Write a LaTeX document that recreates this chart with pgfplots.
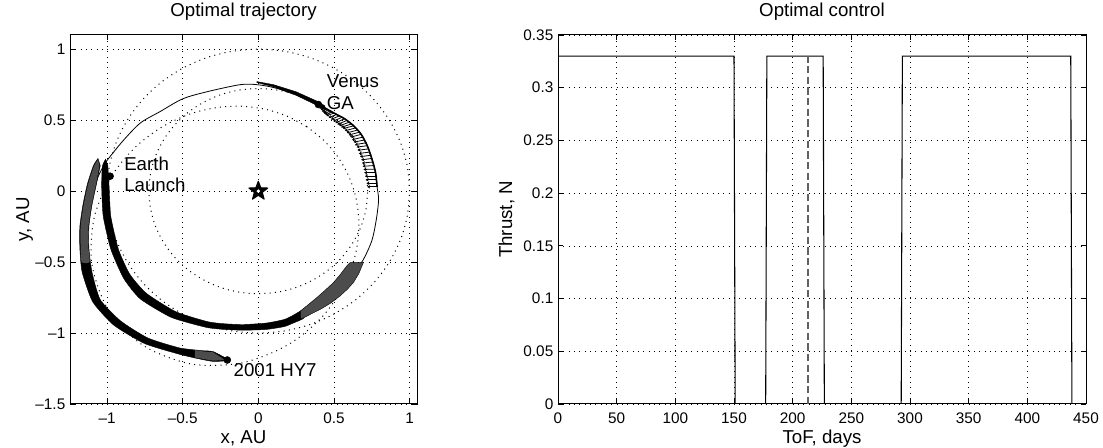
\documentclass[border=0pt]{standalone}
\usepackage{fontspec}
\setmainfont{Liberation Sans}
\usepackage{pgfplots}
\pgfplotsset{compat=1.18}
\usetikzlibrary{arrows.meta}

\pgfdeclareplotmark{pentagram}{%
 \pgfpathmoveto{\pgfpointpolar{90}{\pgfplotmarksize}}%
 \pgfpathlineto{\pgfpointpolar{126}{0.42*\pgfplotmarksize}}%
 \pgfpathlineto{\pgfpointpolar{162}{\pgfplotmarksize}}%
 \pgfpathlineto{\pgfpointpolar{198}{0.42*\pgfplotmarksize}}%
 \pgfpathlineto{\pgfpointpolar{234}{\pgfplotmarksize}}%
 \pgfpathlineto{\pgfpointpolar{270}{0.42*\pgfplotmarksize}}%
 \pgfpathlineto{\pgfpointpolar{306}{\pgfplotmarksize}}%
 \pgfpathlineto{\pgfpointpolar{342}{0.42*\pgfplotmarksize}}%
 \pgfpathlineto{\pgfpointpolar{18}{\pgfplotmarksize}}%
 \pgfpathlineto{\pgfpointpolar{54}{0.42*\pgfplotmarksize}}%
 \pgfpathclose
 \pgfusepathqfillstroke}

\pgfplotsset{
 mystyle/.style={
  scale only axis, height=276.75pt,
  axis line style={line width=0.75pt},
  tick align=inside, major tick length=3.75pt,
  every tick/.style={black, line width=0.6pt},
  grid=major,
  major grid style={black, line width=0.5pt, dash pattern=on 0.6pt off 3.4pt},
  tick label style={font=\fontsize{11.5}{13}\selectfont},
  label style={font=\fontsize{14}{16}\selectfont},
  title style={font=\fontsize{14}{16}\selectfont, at={(axis description cs:0.5,1.0271)}, anchor=base},
  xlabel style={at={(axis description cs:0.5,-0.1057)}, anchor=base},
  xticklabel style={anchor=base, yshift=-14.8pt},
  /pgf/number format/assume math mode=true,
  scaled ticks=false,
 },
 orbit/.style={black, line width=0.75pt, dash pattern=on 0.75pt off 3.2pt, smooth},
 band/.style={draw=black, line width=0.3pt, smooth, tension=0.35},
}

\begin{document}
\begin{tikzpicture}
\path[use as bounding box] (0pt,0pt) rectangle (827.25pt,-336pt);

% ---------------- left: trajectory ----------------
\begin{axis}[mystyle, at={(52.5pt,-303pt)}, anchor=south west, width=260.25pt,
 xmin=-1.245, xmax=1.049, ymin=-1.5, ymax=1.1,
 xtick={-1,-0.5,0,0.5,1}, xticklabels={–1,–0.5,0,0.5,1},
 ytick={-1.5,-1,-0.5,0,0.5,1}, yticklabels={–1.5,–1,–0.5,0,0.5,1},
 title={Optimal trajectory}, xlabel={x, AU}, ylabel={y, AU},
 ylabel style={at={(axis description cs:-0.118,0.5)}, anchor=base}]

% Earth orbit
\addplot[orbit] coordinates {(1,0) (0.985,0.174) (0.940,0.342) (0.866,0.5) (0.766,0.643) (0.643,0.766) (0.5,0.866) (0.342,0.940) (0.174,0.985) (0,1) (-0.174,0.985) (-0.342,0.940) (-0.5,0.866) (-0.643,0.766) (-0.766,0.643) (-0.866,0.5) (-0.940,0.342) (-0.985,0.174) (-1,0) (-0.985,-0.174) (-0.940,-0.342) (-0.866,-0.5) (-0.766,-0.643) (-0.643,-0.766) (-0.5,-0.866) (-0.342,-0.940) (-0.174,-0.985) (0,-1) (0.174,-0.985) (0.342,-0.940) (0.5,-0.866) (0.643,-0.766) (0.766,-0.643) (0.866,-0.5) (0.940,-0.342) (0.985,-0.174) (1,0)};
% Venus orbit
\addplot[orbit] coordinates {(0.723,0) (0.712,0.126) (0.680,0.247) (0.626,0.362) (0.554,0.465) (0.465,0.554) (0.362,0.626) (0.247,0.680) (0.126,0.712) (0,0.723) (-0.126,0.712) (-0.247,0.680) (-0.362,0.626) (-0.465,0.554) (-0.554,0.465) (-0.626,0.362) (-0.680,0.247) (-0.712,0.126) (-0.723,0) (-0.712,-0.126) (-0.680,-0.247) (-0.626,-0.362) (-0.554,-0.465) (-0.465,-0.554) (-0.362,-0.626) (-0.247,-0.680) (-0.126,-0.712) (0,-0.723) (0.126,-0.712) (0.247,-0.680) (0.362,-0.626) (0.465,-0.554) (0.554,-0.465) (0.626,-0.362) (0.680,-0.247) (0.712,-0.126) (0.723,0)};
% asteroid orbit
\addplot[orbit] coordinates {(0.3185,0.4549) (0.1918,0.5271) (0.0504,0.5756) (-0.1054,0.5978) (-0.2746,0.5889) (-0.4550,0.5423) (-0.6414,0.4491) (-0.8231,0.2996) (-0.9812,0.0859) (-1.0859,-0.1914) (-1.1005,-0.5131) (-0.9930,-0.8333) (-0.7612,-1.0872) (-0.4434,-1.2182) (-0.1059,-1.2096) (0.1914,-1.0859) (0.4162,-0.8926) (0.5630,-0.6709) (0.6414,-0.4491) (0.6652,-0.2421) (0.6473,-0.0567) (0.5978,0.1054) (0.5237,0.2442) (0.4297,0.3605) (0.3185,0.4549)};

% trajectory (thin)
\addplot[black, line width=0.6pt, smooth, tension=0.5] coordinates {(-0.98,0.105) (-1.0,0.0) (-0.99,-0.18) (-0.95,-0.41) (-0.87,-0.60) (-0.76,-0.74) (-0.56,-0.87) (-0.34,-0.94) (-0.10,-0.96) (0.17,-0.94) (0.36,-0.85) (0.50,-0.72) (0.62,-0.58) (0.69,-0.49) (0.75,-0.35) (0.78,-0.20) (0.795,-0.06) (0.785,0.03) (0.775,0.13) (0.75,0.23) (0.72,0.32) (0.68,0.40) (0.63,0.46) (0.57,0.51) (0.50,0.55) (0.40,0.61) (0.25,0.68) (0.10,0.73) (-0.01,0.75) (-0.12,0.75) (-0.34,0.70) (-0.50,0.65) (-0.65,0.56) (-0.78,0.48) (-0.89,0.36) (-0.96,0.27) (-1.01,0.20) (-1.06,0.10) (-1.10,-0.03) (-1.14,-0.15) (-1.15,-0.30) (-1.15,-0.45) (-1.13,-0.60) (-1.06,-0.775) (-0.93,-0.93) (-0.74,-1.05) (-0.52,-1.125) (-0.35,-1.16) (-0.205,-1.19)};

% thrust arc A (0-150 d)
\addplot[band, fill=black] coordinates {(-1.01,0.225) (-1.03,0.18) (-1.035,0.10) (-1.035,0.0) (-1.025,-0.18) (-0.975,-0.41) (-0.89,-0.615) (-0.78,-0.76) (-0.575,-0.89) (-0.345,-0.96) (-0.22,-0.975) (-0.10,-0.98) (0.05,-0.975) (0.17,-0.955) (0.23,-0.93) (0.30,-0.895) (0.30,-0.835) (0.23,-0.875) (0.17,-0.905) (0.05,-0.93) (-0.10,-0.94) (-0.22,-0.935) (-0.335,-0.92) (-0.545,-0.85) (-0.74,-0.72) (-0.85,-0.585) (-0.925,-0.41) (-0.975,-0.18) (-0.985,0.0) (-0.99,0.10) (-0.995,0.18)} -- cycle;
\addplot[draw=black, line width=0.3pt, fill=black!70] coordinates {(0.278,-0.904) (0.35,-0.865) (0.41,-0.833) (0.48,-0.788) (0.54,-0.739) (0.59,-0.69) (0.628,-0.645) (0.665,-0.58) (0.694,-0.504) (0.606,-0.504) (0.584,-0.528) (0.54,-0.59) (0.496,-0.645) (0.44,-0.70) (0.386,-0.751) (0.33,-0.80) (0.278,-0.845)} -- cycle;

% thrust arc B (178-226 d)
\addplot[black, line width=0.6pt, -{Stealth[length=2.2pt,width=2.6pt]},
 quiver={u=\thisrow{u}, v=\thisrow{v}}] table[row sep=\\] {
x y u v\\
0.785 0.030 -0.065 0\\
0.7825 0.055 -0.0675 0\\
0.780 0.080 -0.070 0\\
0.7775 0.105 -0.0725 0\\
0.775 0.130 -0.075 0\\
0.769 0.155 -0.074 -0.0025\\
0.763 0.180 -0.073 -0.005\\
0.7565 0.205 -0.0715 -0.0075\\
0.750 0.230 -0.070 -0.010\\
0.7425 0.2525 -0.070 -0.010\\
0.735 0.275 -0.070 -0.010\\
0.7275 0.2975 -0.070 -0.010\\
0.720 0.320 -0.070 -0.010\\
0.710 0.340 -0.070 -0.0125\\
0.700 0.360 -0.070 -0.015\\
0.690 0.380 -0.070 -0.0175\\
0.680 0.400 -0.070 -0.020\\
0.6675 0.415 -0.070 -0.020\\
0.655 0.430 -0.070 -0.020\\
0.6425 0.445 -0.070 -0.020\\
0.630 0.460 -0.070 -0.020\\
0.615 0.4725 -0.0675 -0.0225\\
0.600 0.485 -0.065 -0.025\\
0.585 0.4975 -0.0625 -0.0275\\
0.570 0.510 -0.060 -0.030\\
0.5525 0.520 -0.0575 -0.0275\\
0.535 0.530 -0.055 -0.025\\
0.5175 0.540 -0.0525 -0.0225\\
0.500 0.550 -0.050 -0.020\\
0.4875 0.5575 -0.045 -0.020\\
0.475 0.565 -0.040 -0.020\\
0.4625 0.5725 -0.035 -0.020\\
0.450 0.580 -0.030 -0.020\\
0.4375 0.5875 -0.025 -0.0175\\
0.425 0.595 -0.020 -0.015\\
};
\addplot[black, line width=1.2pt, smooth] coordinates {(0.785,0.03) (0.775,0.13) (0.75,0.23) (0.72,0.32) (0.68,0.40) (0.63,0.46) (0.57,0.51) (0.50,0.55) (0.40,0.61)};
\addplot[draw=black, line width=0.3pt, fill=black] coordinates {(0.44,0.60) (0.40,0.628) (0.25,0.70) (0.10,0.75) (-0.01,0.772) (-0.01,0.765) (0.10,0.735) (0.25,0.675) (0.40,0.598) (0.44,0.575)} -- cycle;

% thrust arc C (293-437 d)
\addplot[band, fill=black] coordinates {(-1.06,0.23) (-1.09,0.18) (-1.13,0.05) (-1.16,-0.10) (-1.18,-0.25) (-1.18,-0.40) (-1.165,-0.57) (-1.095,-0.78) (-0.955,-0.945) (-0.75,-1.075) (-0.52,-1.15) (-0.40,-1.18) (-0.30,-1.20) (-0.21,-1.195) (-0.21,-1.18) (-0.30,-1.13) (-0.36,-1.125) (-0.52,-1.105) (-0.73,-1.035) (-0.91,-0.915) (-1.045,-0.765) (-1.10,-0.57) (-1.12,-0.40) (-1.12,-0.25) (-1.10,-0.10) (-1.07,0.05) (-1.045,0.18)} -- cycle;
\addplot[fill=black!70, draw=none, smooth, tension=0.35] coordinates {(-1.06,0.222) (-1.085,0.18) (-1.125,0.05) (-1.155,-0.10) (-1.175,-0.25) (-1.175,-0.40) (-1.168,-0.50) (-1.115,-0.50) (-1.123,-0.40) (-1.123,-0.25) (-1.103,-0.10) (-1.073,0.05) (-1.05,0.18)} -- cycle;
\addplot[fill=black!70, draw=none] coordinates {(-0.42,-1.172) (-0.30,-1.195) (-0.22,-1.19) (-0.30,-1.135) (-0.36,-1.13) (-0.42,-1.12)} -- cycle;

% bodies
\addplot[only marks, mark=*, mark size=2.6pt, black] coordinates {(-0.98,0.105) (0.397,0.61) (-0.205,-1.19)};
\addplot[only marks, mark=pentagram, mark size=7.4pt, mark options={draw=black, fill=black, line width=0.8pt, line join=round}] coordinates {(0,0)};
\addplot[only marks, mark=*, mark size=1.1pt, mark options={draw=white, fill=white}] coordinates {(0,0)};

\node[anchor=base west, inner sep=0pt, font=\fontsize{14}{16}\selectfont] at (axis cs:0.452,0.730) {Venus};
\node[anchor=base west, inner sep=0pt, font=\fontsize{14}{16}\selectfont] at (axis cs:0.452,0.578) {GA};
\node[anchor=base west, inner sep=0pt, font=\fontsize{14}{16}\selectfont] at (axis cs:-0.888,0.145) {Earth};
\node[anchor=base west, inner sep=0pt, font=\fontsize{14}{16}\selectfont] at (axis cs:-0.888,0.0) {Launch};
\node[anchor=base west, inner sep=0pt, font=\fontsize{14}{16}\selectfont] at (axis cs:-0.165,-1.305) {2001 HY7};
\end{axis}

% ---------------- right: control ----------------
\begin{axis}[mystyle, at={(418.5pt,-303pt)}, anchor=south west, width=396pt,
 xmin=0, xmax=450, ymin=0, ymax=0.35,
 xtick={0,50,100,150,200,250,300,350,400,450},
 ytick={0,0.05,0.1,0.15,0.2,0.25,0.3,0.35},
 yticklabels={0,0.05,0.1,0.15,0.2,0.25,0.3,0.35},
 title={Optimal control}, xlabel={ToF, days}, ylabel={Thrust, N},
 ylabel style={at={(axis description cs:-0.0871,0.5)}, anchor=base}]
\addplot[black, line width=0.8pt] coordinates {(0,0) (0,0.33) (150,0.33) (151,0) (177,0) (178,0.33) (226,0.33) (227,0) (292.5,0) (293.5,0.33) (437,0.33) (438,0) (450,0)};
\addplot[black!62, line width=1pt, dash pattern=on 5.5pt off 2.5pt] coordinates {(213,0) (213,0.33)};
\end{axis}
\end{tikzpicture}
\end{document}
